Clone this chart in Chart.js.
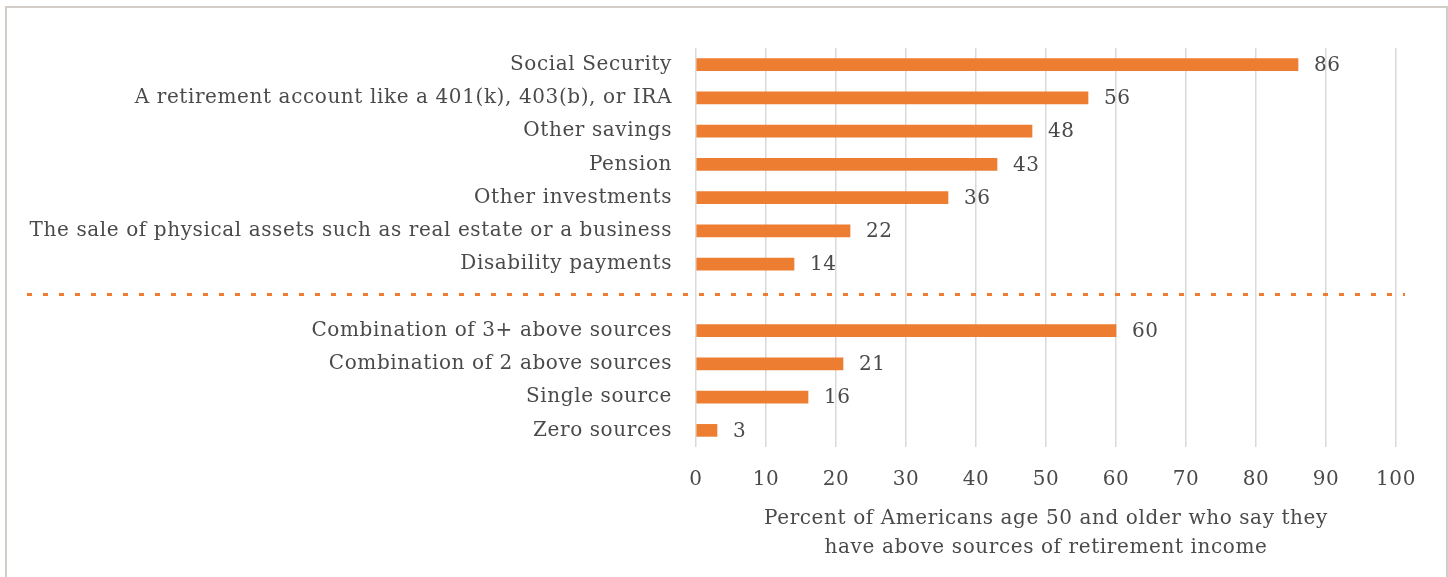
<!DOCTYPE html>
<html>
<head>
<meta charset="utf-8">
<script src="https://cdn.jsdelivr.net/npm/chart.js@4/dist/chart.umd.min.js"></script>
<style>
  html, body { margin: 0; padding: 0; background: #fff; overflow: hidden; }
  #frame {
    position: absolute; left: 5px; top: 6px; width: 1439px; height: 620px;
    border: 2px solid #d2cec7;
  }
  #wrap { position: absolute; left: 0; top: 0; width: 1448px; height: 577px; }
</style>
</head>
<body>
<div id="frame"></div>
<div id="wrap"><canvas id="chart"></canvas></div>
<script>
// sources of retirement income, an empty row separates the two groups
const categories = [
  'Social Security',
  'A retirement account like a 401(k), 403(b), or IRA',
  'Other savings',
  'Pension',
  'Other investments',
  'The sale of physical assets such as real estate or a business',
  'Disability payments',
  '',
  'Combination of 3+ above sources',
  'Combination of 2 above sources',
  'Single source',
  'Zero sources'
];
const percents = [86, 56, 48, 43, 36, 22, 14, null, 60, 21, 16, 3];
const separatorIndex = 7;
const xTicks = [0, 10, 20, 30, 40, 50, 60, 70, 80, 90, 100];
const axisTitle = [
  'Percent of Americans age 50 and older who say they',
  'have above sources of retirement income'
];

const textColor = '#4a4a4a';
const orange = '#ed7d31';
const fontFamily = '"DejaVu Serif"';
const fontSize = 20;
const spacing = '0.6px';

Chart.defaults.font.family = fontFamily;
Chart.defaults.color = textColor;

// a touch of tracking on every label drawn by the chart
const tracking = {
  id: 'tracking',
  beforeUpdate(chart) { chart.ctx.letterSpacing = spacing; },
  beforeDraw(chart) { chart.ctx.letterSpacing = spacing; }
};

// value printed just past the end of each bar
const valueLabels = {
  id: 'valueLabels',
  afterDatasetsDraw(chart) {
    const ctx = chart.ctx;
    const meta = chart.getDatasetMeta(0);
    ctx.save();
    ctx.font = fontSize + 'px ' + fontFamily;
    ctx.fillStyle = textColor;
    ctx.textAlign = 'left';
    ctx.textBaseline = 'middle';
    meta.data.forEach((bar, i) => {
      const v = percents[i];
      if (v == null) return;
      ctx.fillText(String(v), bar.x + 16, bar.y + 1);
    });
    ctx.restore();
  }
};

// dotted divider between single sources and combinations
const divider = {
  id: 'divider',
  afterDatasetsDraw(chart) {
    const ctx = chart.ctx;
    const y = chart.scales.y.getPixelForValue(separatorIndex) - 3;
    ctx.save();
    ctx.strokeStyle = orange;
    ctx.lineWidth = 3;
    ctx.setLineDash([5, 11]);
    ctx.beginPath();
    ctx.moveTo(27, y);
    ctx.lineTo(1405, y);
    ctx.stroke();
    ctx.restore();
  }
};

new Chart(document.getElementById('chart'), {
  type: 'bar',
  data: {
    labels: categories,
    datasets: [{
      data: percents,
      backgroundColor: orange,
      barThickness: 12
    }]
  },
  options: {
    indexAxis: 'y',
    responsive: true,
    maintainAspectRatio: false,
    animation: false,
    layout: { padding: { top: 48, right: 52, bottom: 0, left: 0 } },
    plugins: {
      legend: { display: false },
      tooltip: { enabled: false }
    },
    scales: {
      x: {
        min: 0,
        max: 100,
        afterFit(scale) { scale.height = 130; },
        afterBuildTicks(scale) { scale.ticks = xTicks.map(v => ({ value: v })); },
        grid: { color: '#d9d9d9', lineWidth: 1.5, drawTicks: false },
        border: { display: false },
        ticks: { padding: 21, font: { size: fontSize }, color: textColor },
        title: {
          display: true,
          text: axisTitle,
          font: { size: fontSize, lineHeight: 1.45 },
          color: textColor,
          padding: { top: 0, bottom: 15 }
        }
      },
      y: {
        afterFit(scale) { scale.width = 696; },
        grid: { display: false, drawTicks: false },
        border: { display: false },
        ticks: { padding: 24, font: { size: fontSize }, color: textColor, autoSkip: false }
      }
    }
  },
  plugins: [tracking, divider, valueLabels]
});
</script>
</body>
</html>
